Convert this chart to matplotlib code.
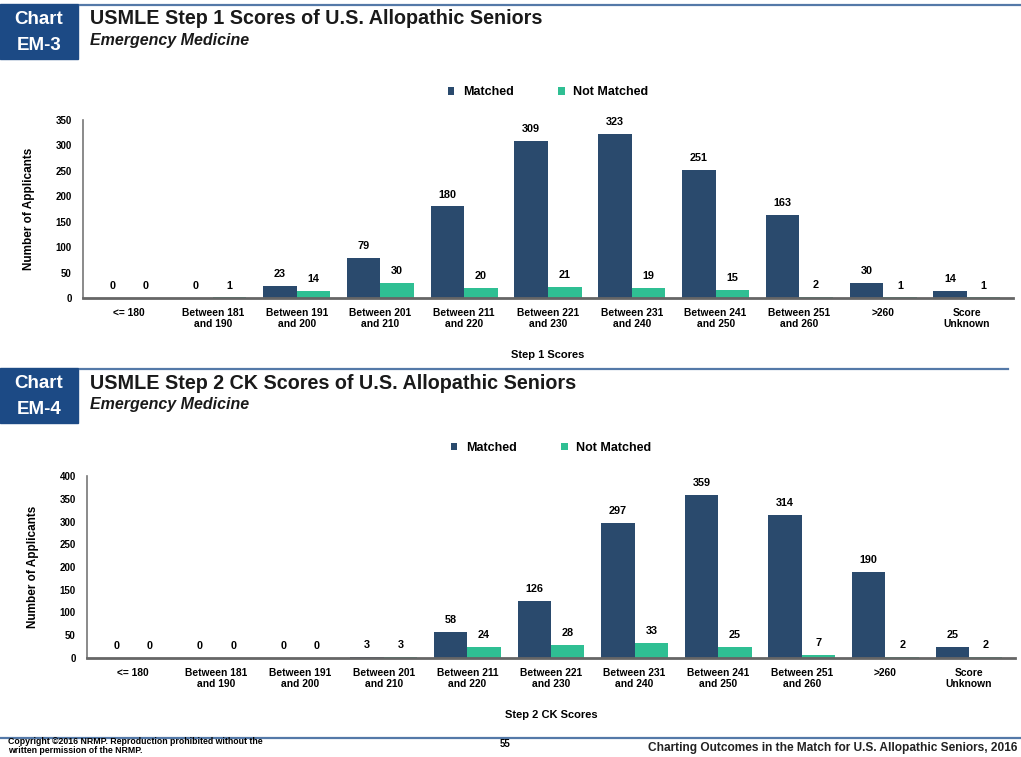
import matplotlib.pyplot as plt
import numpy as np
from matplotlib.patches import Rectangle
from matplotlib.lines import Line2D

categories = ["<= 180", "Between 181\nand 190", "Between 191\nand 200", "Between 201\nand 210",
              "Between 211\nand 220", "Between 221\nand 230", "Between 231\nand 240",
              "Between 241\nand 250", "Between 251\nand 260", ">260", "Score\nUnknown"]

step1_matched = [0, 0, 23, 79, 180, 309, 323, 251, 163, 30, 14]
step1_not_matched = [0, 1, 14, 30, 20, 21, 19, 15, 2, 1, 1]

step2_matched = [0, 0, 0, 3, 58, 126, 297, 359, 314, 190, 25]
step2_not_matched = [0, 0, 0, 3, 24, 28, 33, 25, 7, 2, 2]

navy = "#2a4a6d"
green = "#2fbf93"
blue_box = "#1c4a85"
rule = "#5479a8"

plt.rcParams['font.family'] = ['Liberation Sans', 'DejaVu Sans']
plt.rcParams['font.weight'] = 'bold'

fig = plt.figure(figsize=(10.21, 7.57), dpi=100)
W, H = 1021.0, 757.0


def px(x, y):
    return x / W, 1 - y / H


def header(y_top, code, title, line_right):
    x0, y0 = px(0, y_top + 55)
    fig.add_artist(Rectangle((x0, y0), 78 / W, 55 / H, transform=fig.transFigure,
                             color=blue_box, zorder=1))
    fig.text(*px(39, y_top + 16), "Chart", color="white", fontsize=13.5,
             ha="center", va="center", weight="bold")
    fig.text(*px(39, y_top + 41), code, color="white", fontsize=13.5,
             ha="center", va="center", weight="bold")
    xa, ya = px(80, y_top + 1)
    xb, _ = px(line_right, y_top + 1)
    fig.add_artist(Line2D([xa, xb], [ya, ya], transform=fig.transFigure,
                          color=rule, lw=1.6))
    fig.text(*px(90, y_top + 15), title, fontsize=14.2, weight="bold",
             color="#1a1a1a", ha="left", va="center")
    fig.text(*px(90, y_top + 37), "Emergency Medicine", fontsize=11.5,
             weight="bold", style="italic", color="#1a1a1a", ha="left", va="center")


def bar_chart(rect, matched, not_matched, ymax, xlabel):
    ax = fig.add_axes(rect)
    x = np.arange(len(categories))
    w = 0.4
    b1 = ax.bar(x - w / 2, matched, w, color=navy, label="Matched")
    b2 = ax.bar(x + w / 2, not_matched, w, color=green, label="Not Matched")
    for bars in (b1, b2):
        for b in bars:
            ax.annotate(str(int(b.get_height())),
                        (b.get_x() + b.get_width() / 2, b.get_height()),
                        xytext=(0, 5), textcoords="offset points",
                        ha="center", va="bottom", fontsize=7.8, weight="bold")
    ax.set_xlim(-0.55, len(categories) - 0.45)
    ax.set_ylim(0, ymax)
    ax.set_yticks(np.arange(0, ymax + 1, 50))
    ax.set_xticks(x)
    ax.set_xticklabels(categories, fontsize=7.4, weight="bold", linespacing=1.15)
    ax.tick_params(axis="both", length=0, pad=7)
    ax.tick_params(axis="y", labelsize=7, pad=8)
    for s in ("top", "right"):
        ax.spines[s].set_visible(False)
    ax.spines["left"].set_color("#777777")
    ax.spines["left"].set_linewidth(1.2)
    ax.spines["bottom"].set_color("#666666")
    ax.spines["bottom"].set_linewidth(2)
    ax.set_ylabel("Number of Applicants", fontsize=8.5, weight="bold", labelpad=15)
    ax.set_xlabel(xlabel, fontsize=8, weight="bold", labelpad=15)
    ax.legend(loc="center", bbox_to_anchor=(0.5, 1.155), ncol=2, frameon=False,
              fontsize=9, handlelength=0.55, handleheight=0.55, columnspacing=3.5,
              handletextpad=0.7)
    return ax


header(4, "EM-3", "USMLE Step 1 Scores of U.S. Allopathic Seniors", 1021)
bar_chart([83 / W, 1 - 298 / H, 930 / W, 178 / H], step1_matched, step1_not_matched,
          350, "Step 1 Scores")

header(368, "EM-4", "USMLE Step 2 CK Scores of U.S. Allopathic Seniors", 1008)
bar_chart([87 / W, 1 - 658 / H, 928 / W, 182 / H], step2_matched, step2_not_matched,
          400, "Step 2 CK Scores")

# footer
ya = 1 - 738 / H
fig.add_artist(Line2D([0, 1], [ya, ya], transform=fig.transFigure, color=rule, lw=1.6))
fig.text(*px(8, 746), "Copyright ©2016 NRMP. Reproduction prohibited without the\nwritten permission of the NRMP.",
         fontsize=6.3, ha="left", va="center", linespacing=1.0)
fig.text(*px(505, 744), "55", fontsize=7, ha="center", va="center")
fig.text(*px(1017, 748), "Charting Outcomes in the Match for U.S. Allopathic Seniors, 2016",
         fontsize=8.6, ha="right", va="center", color="#222222")

fig.savefig("out.png", dpi=100)
